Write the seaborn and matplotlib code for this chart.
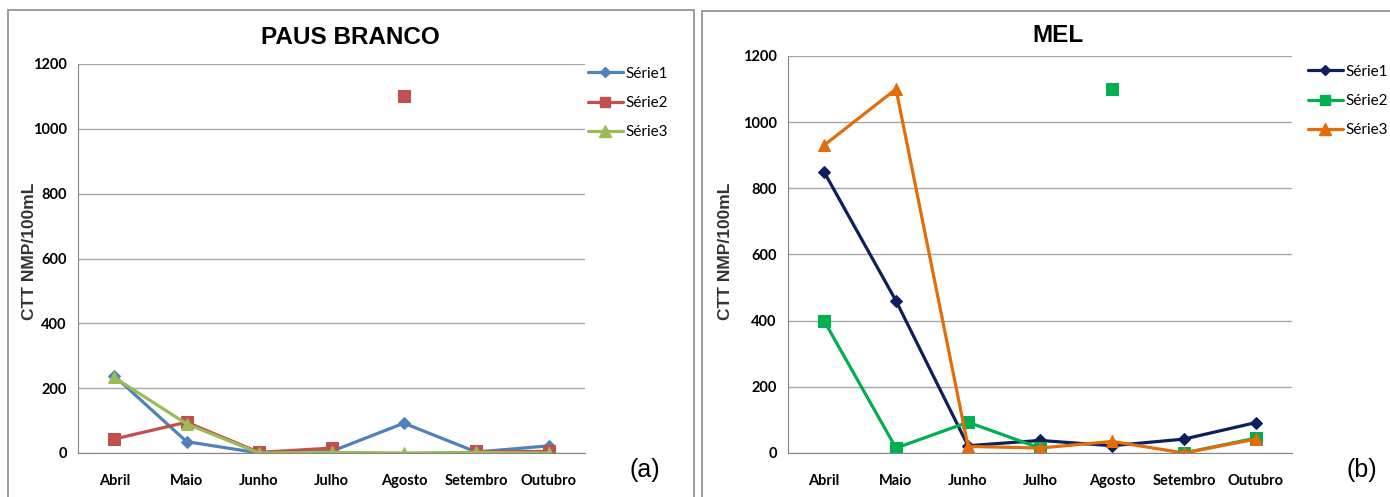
import numpy as np
import pandas as pd
import matplotlib
matplotlib.use('Agg')
import matplotlib.pyplot as plt
import seaborn as sns
from matplotlib.lines import Line2D
from matplotlib.patches import Rectangle

# --- dados ---
meses = ['Abril', 'Maio', 'Junho', 'Julho', 'Agosto', 'Setembro', 'Outubro']
series = ['Série1', 'Série2', 'Série3']

# PAUS BRANCO (a)
pb_s1 = [238, 35, 0, 5, 92, 3, 22]
pb_s2 = [43, 95, 2, 15, 1100, 5, 5]
pb_s3 = [233, 90, 0, 2, 0, 2, 0]

# MEL (b)
mel_s1 = [850, 460, 22, 38, 22, 42, 92]
mel_s2 = [400, 15, 93, 15, 1100, 0, 45]
mel_s3 = [930, 1100, 20, 15, 35, 0, 42]

# Agosto da Série2 aparece solto, sem ligação com os vizinhos
mes_solto = 'Agosto'

sns.set_style('white')
plt.rcParams['font.family'] = ['Lato', 'DejaVu Sans']
plt.rcParams['text.color'] = 'black'
plt.rcParams['xtick.labelcolor'] = 'black'
plt.rcParams['ytick.labelcolor'] = 'black'


def monta_df(valores):
    linhas = []
    for nome, vals in zip(series, valores):
        for i, (m, v) in enumerate(zip(meses, vals)):
            seg = 0
            if nome == 'Série2':
                k = meses.index(mes_solto)
                seg = 0 if i < k else (1 if i == k else 2)
            linhas.append({'pos': i, 'mes': m, 'valor': v, 'serie': nome, 'seg': seg})
    return pd.DataFrame(linhas)


marcadores = {'Série1': ('D', 6.5), 'Série2': ('s', 8.5), 'Série3': ('^', 9)}

fig = plt.figure(figsize=(13.9, 4.97), dpi=100)

# molduras cinzas de cada painel
fig.patches.append(Rectangle((8 / 1390, -0.01), 686 / 1390, 1 - 10 / 497 + 0.01,
                             transform=fig.transFigure, fill=False,
                             edgecolor='#8c8c8c', linewidth=1.2))
fig.patches.append(Rectangle((702 / 1390, -0.01), 700 / 1390, 1 - 11 / 497 + 0.01,
                             transform=fig.transFigure, fill=False,
                             edgecolor='#8c8c8c', linewidth=1.2))

paineis = [
    {'vals': [pb_s1, pb_s2, pb_s3], 'titulo': 'PAUS BRANCO', 'letra': '(a)',
     'cores': ['#4F81BD', '#C0504D', '#9BBB59'],
     'rect': [78 / 1390, 44 / 497, 507 / 1390, 389 / 497],
     'tit_x': 350 / 1390, 'tit_y': 37, 'ylab_x': 30 / 1390,
     'leg': (580 / 1390, 1 - 59 / 497), 'letra_x': 645 / 1390},
    {'vals': [mel_s1, mel_s2, mel_s3], 'titulo': 'MEL', 'letra': '(b)',
     'cores': ['#0D1F5C', '#00B050', '#E46C0A'],
     'rect': [788 / 1390, 44 / 497, 504 / 1390, 397 / 497],
     'tit_x': 1058 / 1390, 'tit_y': 35, 'ylab_x': 725 / 1390,
     'leg': (1300 / 1390, 1 - 57 / 497), 'letra_x': 1362 / 1390},
]

for p in paineis:
    ax = fig.add_axes(p['rect'])
    df = monta_df(p['vals'])
    handles = []
    for nome, cor in zip(series, p['cores']):
        mk, ms = marcadores[nome]
        sub = df[df['serie'] == nome]
        sns.lineplot(data=sub, x='pos', y='valor', units='seg', estimator=None,
                     color=cor, marker=mk, markersize=ms, markeredgecolor=cor,
                     linewidth=2.3, legend=False, sort=False, ax=ax)
        handles.append(Line2D([], [], color=cor, marker=mk, markersize=ms - 1,
                              markeredgecolor=cor, linewidth=2.3))

    ax.set_xlim(-0.5, 6.5)
    ax.set_ylim(0, 1200)
    ax.set_yticks(np.arange(0, 1201, 200))
    ax.set_xticks(range(len(meses)))
    ax.set_xticklabels(meses)
    ax.set_xticks(np.arange(-0.5, 6.6, 1), minor=True)
    ax.tick_params(axis='x', which='major', length=0, pad=15, labelsize=10.5)
    ax.tick_params(axis='x', which='minor', length=5, direction='out', color='#868686')
    ax.tick_params(axis='y', length=5, direction='out', color='#868686', labelsize=10.5, pad=3)
    for lab in ax.get_xticklabels() + ax.get_yticklabels():
        lab.set_fontweight('bold')
    ax.grid(axis='y', color='#A6A6A6', linewidth=1)
    ax.set_axisbelow(True)
    for s in ['top', 'right']:
        ax.spines[s].set_visible(False)
    for s in ['left', 'bottom']:
        ax.spines[s].set_color('#868686')
    ax.set_xlabel('')
    ax.set_ylabel('')

    fig.text(p['tit_x'], 1 - p['tit_y'] / 497, p['titulo'], ha='center', va='center',
             fontsize=17.5, fontweight='bold', family='Liberation Sans')
    fig.text(p['ylab_x'], 1 - 251 / 497, 'CTT NMP/100mL', rotation=90,
             ha='center', va='center', fontsize=12.5, fontweight='bold',
             family='Liberation Sans', color='#333333')
    fig.text(p['letra_x'], 1 - 470 / 497, p['letra'], ha='center', va='center',
             fontsize=18, family='Liberation Sans')
    fig.legend(handles, series, loc='upper left', bbox_to_anchor=p['leg'],
               frameon=False, handlelength=2.3, handletextpad=0.15,
               labelspacing=1.0, fontsize=11, borderpad=0)

fig.savefig('out.png', dpi=100)
